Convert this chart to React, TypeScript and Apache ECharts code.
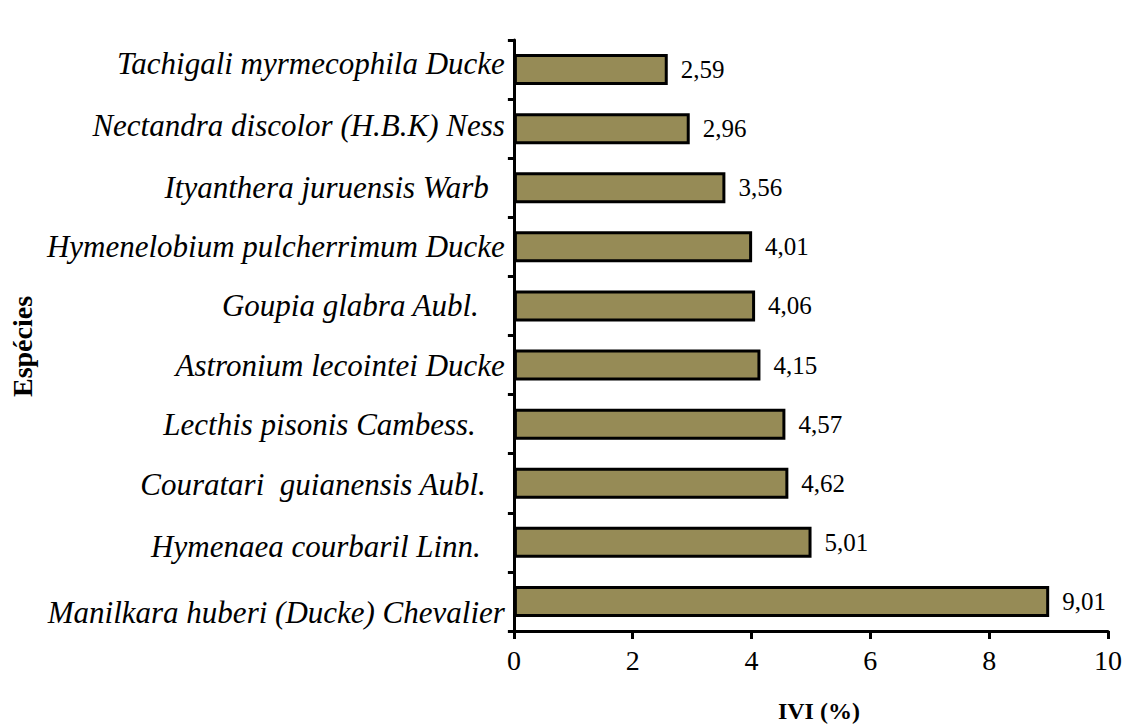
import React, { useEffect, useRef } from "react";
import * as echarts from "echarts";

const species = [
  "Tachigali myrmecophila Ducke",
  "Nectandra discolor (H.B.K) Ness",
  "Ityanthera juruensis Warb",
  "Hymenelobium pulcherrimum Ducke",
  "Goupia glabra Aubl.",
  "Astronium lecointei Ducke",
  "Lecthis pisonis Cambess.",
  "Couratari  guianensis Aubl.",
  "Hymenaea courbaril Linn.",
  "Manilkara huberi (Ducke) Chevalier",
];
const ivi = [2.59, 2.96, 3.56, 4.01, 4.06, 4.15, 4.57, 4.62, 5.01, 9.01];
const xTicks = [0, 2, 4, 6, 8, 10];

// label placement tweaks (px): right padding and vertical shift, as in the original
const labelTweak: Record<string, { pad: number; dy: number }> = {
  "Tachigali myrmecophila Ducke": { pad: 0, dy: -6 },
  "Nectandra discolor (H.B.K) Ness": { pad: 0, dy: -3 },
  "Ityanthera juruensis Warb": { pad: 16, dy: 0 },
  "Goupia glabra Aubl.": { pad: 26, dy: 0 },
  "Lecthis pisonis Cambess.": { pad: 29, dy: 0 },
  "Couratari  guianensis Aubl.": { pad: 19, dy: 1 },
  "Hymenaea courbaril Linn.": { pad: 24, dy: 4 },
  "Manilkara huberi (Ducke) Chevalier": { pad: 0, dy: 11 },
};

const FONT = "Liberation Serif";

export default function App() {
  const ref = useRef<HTMLDivElement>(null);
  useEffect(() => {
    if (!ref.current) return;
    const chart = echarts.init(ref.current, null, { renderer: "svg" });
    const rich: Record<string, any> = {};
    species.forEach((s, i) => {
      const t = labelTweak[s] || { pad: 0, dy: 0 };
      rich["l" + i] = {
        fontFamily: FONT,
        fontStyle: "italic",
        fontSize: 31,
        color: "#000",
        padding: [t.dy > 0 ? 2 * t.dy : 0, t.pad, t.dy < 0 ? -2 * t.dy : 0, 0],
      };
    });
    chart.setOption({
      animation: false,
      backgroundColor: "#fff",
      grid: { left: 509, right: 21, top: 40, bottom: 91, containLabel: false },
      xAxis: {
        type: "value",
        min: xTicks[0],
        max: xTicks[xTicks.length - 1],
        interval: 2,
        name: "IVI (%)",
        nameLocation: "middle",
        nameGap: 68,
        nameTextStyle: {
          fontFamily: FONT,
          fontWeight: "bold",
          fontSize: 24,
          color: "#000",
          padding: [0, 0, 0, 16],
        },
        axisLine: { show: true, lineStyle: { color: "#000", width: 3 } },
        axisTick: { show: true, length: 8, lineStyle: { color: "#000", width: 3 } },
        axisLabel: { fontFamily: FONT, fontSize: 28, color: "#000", margin: 15 },
        splitLine: { show: false },
      },
      yAxis: {
        type: "category",
        data: species,
        inverse: true,
        name: "Espécies",
        nameLocation: "middle",
        nameGap: 473,
        nameRotate: 90,
        nameTextStyle: {
          fontFamily: FONT,
          fontWeight: "bold",
          fontSize: 28,
          color: "#000",
          padding: [0, 22, 0, 0],
        },
        axisLine: { show: true, lineStyle: { color: "#000", width: 3 } },
        axisTick: { show: true, length: 6, lineStyle: { color: "#000", width: 3 } },
        axisLabel: {
          margin: 9,
          formatter: (v: string) => `{l${species.indexOf(v)}|${v}}`,
          rich,
        },
      },
      series: [
        {
          type: "bar",
          data: ivi,
          barWidth: 31,
          itemStyle: { color: "#968B56", borderColor: "#000", borderWidth: 3 },
          label: {
            show: true,
            position: "right",
            distance: 13,
            fontFamily: FONT,
            fontSize: 25,
            color: "#000",
            formatter: (p: any) => p.value.toFixed(2).replace(".", ","),
          },
        },
      ],
    });
    return () => chart.dispose();
  }, []);
  return <div ref={ref} style={{ width: 1129, height: 728, position: "absolute", left: 0, top: 0 }} />;
}
